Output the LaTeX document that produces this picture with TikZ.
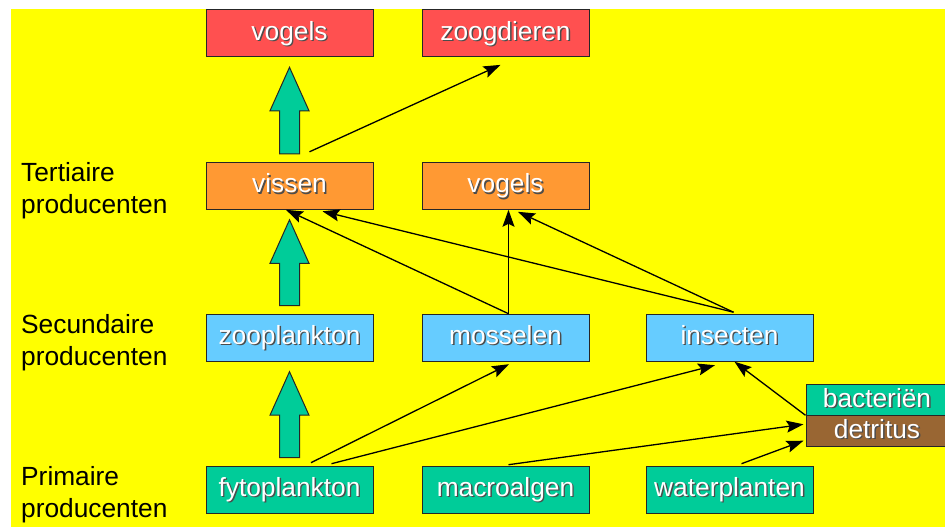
\documentclass[tikz,border=0pt]{standalone}
\usepackage{fontspec}
\setmainfont{Liberation Sans}
\usetikzlibrary{arrows.meta,calc}

\definecolor{sheet}{HTML}{FFFF00}
\definecolor{topred}{HTML}{FF5050}
\definecolor{midorange}{HTML}{FF9933}
\definecolor{lowblue}{HTML}{66CCFF}
\definecolor{plantgreen}{HTML}{00CC99}
\definecolor{mudbrown}{HTML}{996633}

% white lettering with a dark drop shadow
\newcommand\shtext[1]{\rlap{\hspace{1.4pt}\raisebox{-1.4pt}{\textcolor{black!70}{#1}}}\textcolor{white}{#1}}

\tikzset{
  box/.style={draw=black!85, line width=1pt, minimum width=167pt, minimum height=47pt,
    inner sep=0pt, text height=19.5pt, text depth=5.8pt,
    font=\fontsize{26.3}{30}\selectfont},
  thinbox/.style={box, minimum width=142pt, minimum height=31pt},
  level/.style={anchor=west, align=left, inner sep=0pt,
    font=\fontsize{26.3}{31.7}\selectfont},
  feed/.style={line width=1.3pt, -{Stealth[length=17pt,width=12pt,inset=3pt]}},
  blockarrow/.style={draw=black!85, line width=1pt, fill=plantgreen},
}

% thick green arrow from the lower node up to the upper node
\newcommand\bigup[2]{%
  \path[blockarrow] let \p1=(#1.north), \p2=(#2.south) in
    (\x1-10pt,\y1+8pt) -- (\x1-10pt,\y2-53.5pt) -- (\x1-19.5pt,\y2-53.5pt)
    -- (\x1,\y2-10pt) -- (\x1+19.5pt,\y2-53.5pt) -- (\x1+10pt,\y2-53.5pt)
    -- (\x1+10pt,\y1+8pt) -- cycle;}

\begin{document}
\begin{tikzpicture}[x=1pt,y=-1pt]
  \useasboundingbox (0,0) rectangle (945,527);
  \fill[sheet] (11,9) rectangle (950,527);

  % trophic levels
  \node[level] (lvl3) at (21,191) {Tertiaire\\producenten};
  \node[level] (lvl2) at (21,343) {Secundaire\\producenten};
  \node[level] (lvl1) at (21,495) {Primaire\\producenten};

  % top predators
  \node[box, fill=topred] (vogelsT) at (289.5,33.3) {\shtext{vogels}};
  \node[box, fill=topred] (zoogdieren) at (505.5,33.3) {\shtext{zoogdieren}};

  % tertiary
  \node[box, fill=midorange] (vissen) at (289.5,185.8) {\shtext{vissen}};
  \node[box, fill=midorange] (vogelsM) at (505.5,185.8) {\shtext{vogels}};

  % secondary
  \node[box, fill=lowblue] (zooplankton) at (289.5,337.7) {\shtext{zooplankton}};
  \node[box, fill=lowblue] (mosselen) at (505.5,337.7) {\shtext{mosselen}};
  \node[box, fill=lowblue] (insecten) at (729.5,337.7) {\shtext{insecten}};

  % primary
  \node[box, fill=plantgreen] (fytoplankton) at (289.5,489.7) {\shtext{fytoplankton}};
  \node[box, fill=plantgreen] (macroalgen) at (505.5,489.7) {\shtext{macroalgen}};
  \node[box, fill=plantgreen] (waterplanten) at (729.5,489.7) {\shtext{waterplanten}};

  % decomposition
  \node[thinbox, fill=plantgreen] (bacterien) at (877,400.3) {\shtext{bacteriën}};
  \node[thinbox, fill=mudbrown] (detritus) at (877,431.3) {\shtext{detritus}};

  % main plankton chain
  \bigup{vissen}{vogelsT}
  \bigup{zooplankton}{vissen}
  \bigup{fytoplankton}{zooplankton}

  % other feeding relations
  \draw[feed] ($(vissen.north)+(20,-10)$) -- ($(zoogdieren.south)+(-5,7.6)$);
  \draw[feed] ($(mosselen.north)+(3,0)$) -- ($(vissen.south)+(-3.5,0)$);
  \draw[feed] ($(insecten.north)+(4,-1.5)$) -- ($(vissen.south)+(33,1.5)$);
  \draw[feed] ($(mosselen.north)+(3,0)$) -- ($(vogelsM.south)+(3,0)$);
  \draw[feed] ($(insecten.north)+(4,-1.5)$) -- ($(vogelsM.south)+(12.5,2)$);
  \draw[feed] ($(fytoplankton.north)+(21.5,-3)$) -- ($(mosselen.south)+(3.5,2.5)$);
  \draw[feed] ($(fytoplankton.north)+(42,-2)$) -- ($(insecten.south)+(-14.5,3.5)$);
  \draw[feed] ($(macroalgen.north)+(3,-1)$) -- ($(detritus.west)+(-2,-7)$);
  \draw[feed] ($(waterplanten.north)+(12,-2)$) -- ($(detritus.west)+(-2,9.4)$);
  \draw[feed] (detritus.north west) -- ($(insecten.south)+(5,0)$);
\end{tikzpicture}
\end{document}
